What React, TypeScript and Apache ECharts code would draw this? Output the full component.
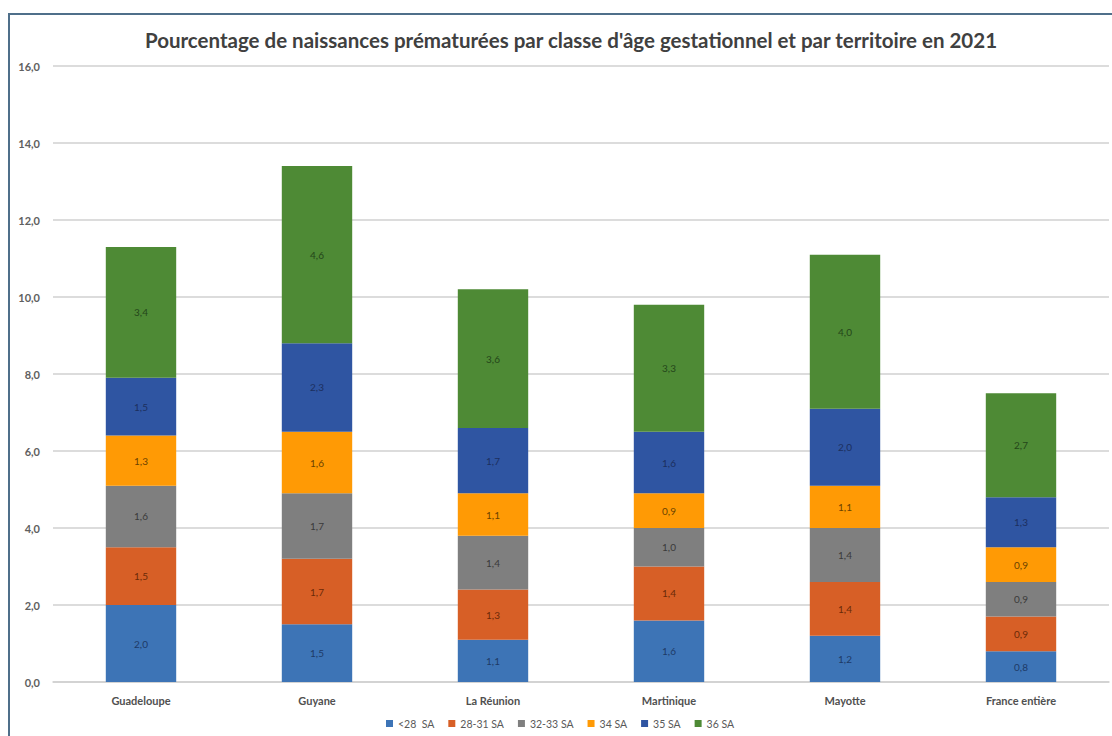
import React, { useEffect, useRef } from "react";
import * as echarts from "echarts";

const categories = ["Guadeloupe", "Guyane", "La Réunion", "Martinique", "Mayotte", "France entière"];
const seriesNames = ["<28  SA", "28-31 SA", "32-33 SA", "34 SA", "35 SA", "36 SA"];
const lt28 = [2.0, 1.5, 1.1, 1.6, 1.2, 0.8];
const s28_31 = [1.5, 1.7, 1.3, 1.4, 1.4, 0.9];
const s32_33 = [1.6, 1.7, 1.4, 1.0, 1.4, 0.9];
const s34 = [1.3, 1.6, 1.1, 0.9, 1.1, 0.9];
const s35 = [1.5, 2.3, 1.7, 1.6, 2.0, 1.3];
const s36 = [3.4, 4.6, 3.6, 3.3, 4.0, 2.7];
const yTicks = [0, 2, 4, 6, 8, 10, 12, 14, 16];

const seriesData = [lt28, s28_31, s32_33, s34, s35, s36];
const colors = ["#3d74b6", "#d75f26", "#7f7f7f", "#ff9a05", "#2f55a2", "#4e8a35"];
const labelColors = ["#1e3a66", "#6a2a08", "#3a3a3a", "#6b4200", "#1c2f5e", "#24461a"];

export default function App() {
  const ref = useRef<HTMLDivElement>(null);
  useEffect(() => {
    document.body.style.margin = "0";
    if (!ref.current) return;
    const chart = echarts.init(ref.current, undefined, { renderer: "svg" });
    const fmt = (v: number) => v.toFixed(1).replace(".", ",");
    chart.setOption({
      animation: false,
      backgroundColor: "#ffffff",
      title: {
        text: "Pourcentage de naissances prématurées par classe d'âge gestationnel et par territoire en 2021",
        left: 566,
        top: 24,
        textAlign: "center",
        textStyle: { fontFamily: "Lato", fontSize: 20.5, fontWeight: "bold", color: "#404040" },
      },
      legend: {
        data: seriesNames,
        bottom: 2,
        left: 381,
        itemWidth: 7,
        itemHeight: 7,
        itemGap: 14,
        itemStyle: { borderWidth: 0 },
        icon: "rect",
        textStyle: { fontFamily: "Lato", fontSize: 10.5, color: "#595959" },
      },
      graphic: [
        {
          type: "polyline",
          shape: { points: [[9, 800], [9, 14], [1200, 14]] },
          style: { fill: "none", stroke: "#4f6f8a", lineWidth: 2 },
          z: -1,
        },
      ],
      grid: { left: 53, right: 3, top: 66, bottom: 54, containLabel: false },
      xAxis: {
        type: "category",
        data: categories,
        axisTick: { show: false },
        axisLine: { lineStyle: { color: "#d0d0d0", width: 1.5 } },
        axisLabel: { fontFamily: "Lato", fontSize: 11, fontWeight: "bold", color: "#505050", margin: 13 },
      },
      yAxis: {
        type: "value",
        min: yTicks[0],
        max: yTicks[yTicks.length - 1],
        interval: 2,
        axisLine: { show: false },
        axisTick: { show: false },
        splitLine: { lineStyle: { color: "#d0d0d0", width: 1.5 } },
        axisLabel: {
          fontFamily: "Lato",
          fontSize: 11,
          fontWeight: "bold",
          color: "#606060",
          margin: 13,
          formatter: (v: number) => fmt(v),
        },
      },
      series: seriesData.map((d, i) => ({
        name: seriesNames[i],
        type: "bar",
        stack: "total",
        data: d,
        barWidth: "40%",
        itemStyle: { color: colors[i] },
        label: {
          show: true,
          position: "inside",
          fontFamily: "Lato",
          fontSize: 10,
          color: labelColors[i],
          formatter: (p: any) => fmt(p.value),
        },
      })),
    });
    return () => chart.dispose();
  }, []);
  return <div ref={ref} style={{ width: 1112, height: 736 }} />;
}
